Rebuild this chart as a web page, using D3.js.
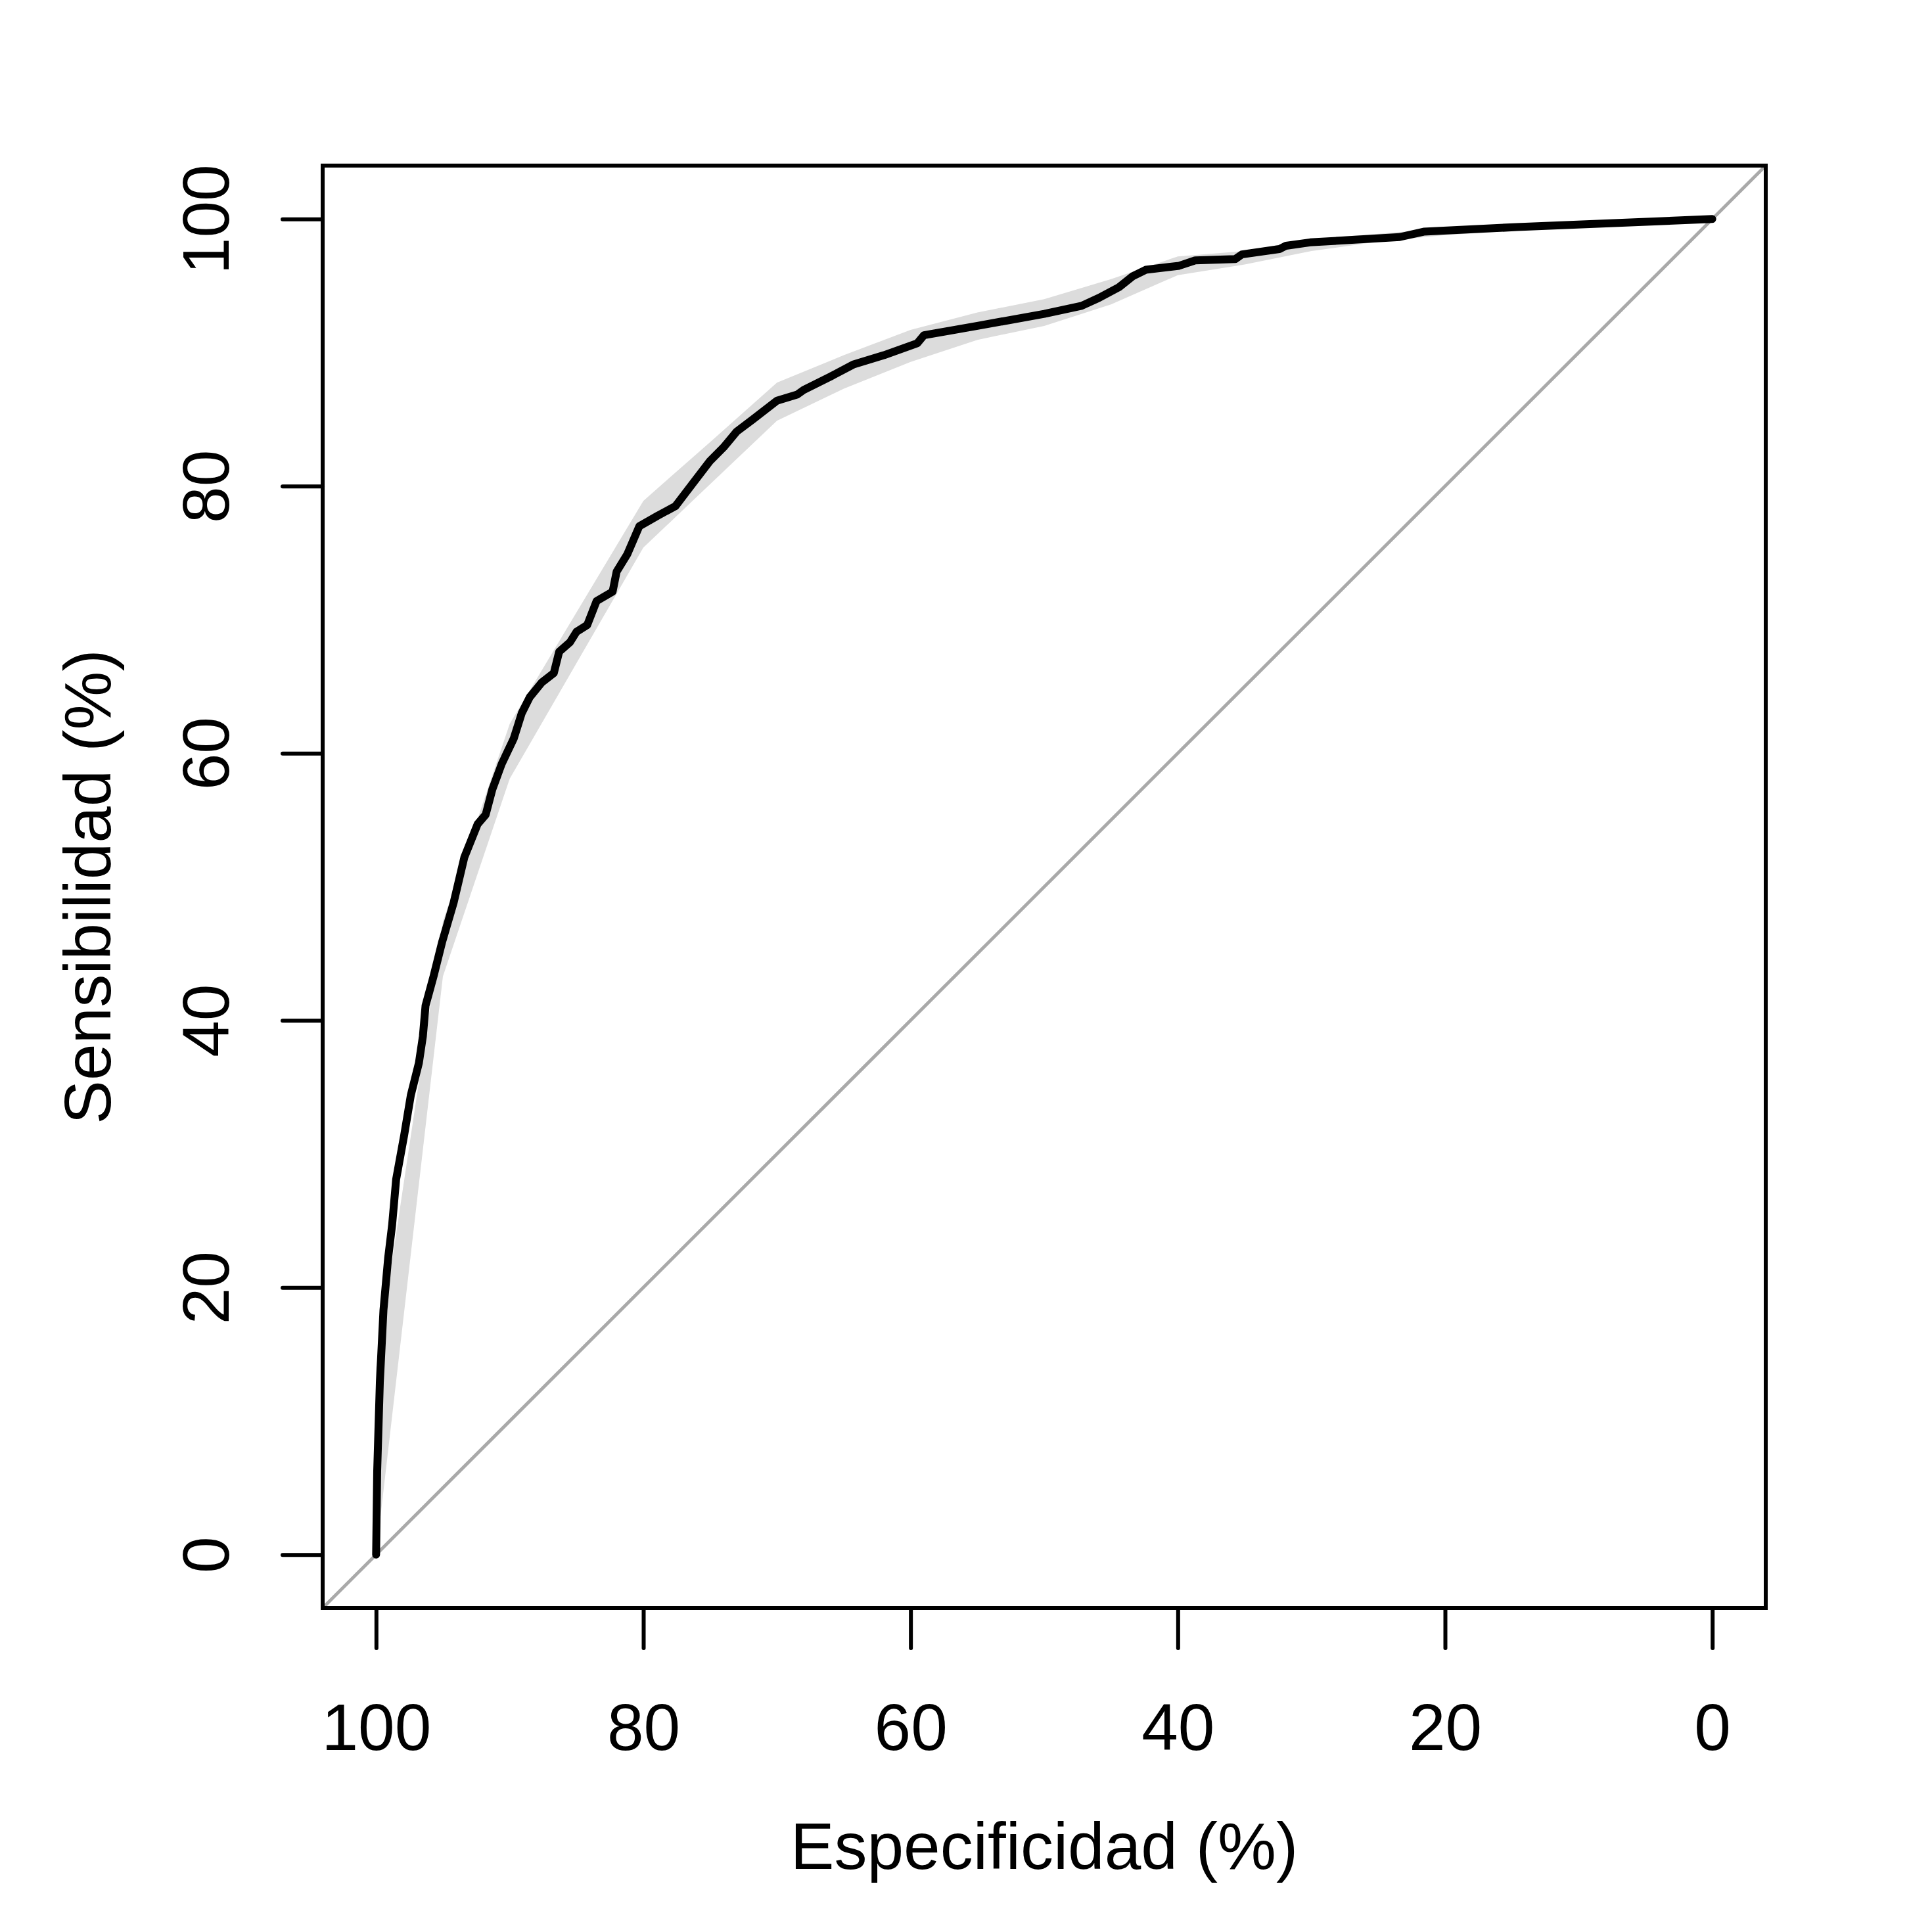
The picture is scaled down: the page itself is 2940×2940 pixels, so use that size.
<!DOCTYPE html>
<html>
<head>
<meta charset="utf-8">
<script src="https://cdn.jsdelivr.net/npm/d3@7"></script>
<style>
  body { margin: 0; background: #fff; }
  text { font-family: "Liberation Sans", Arial, sans-serif; }
</style>
</head>
<body>
<div id="chart"></div>
<script>
// ROC curve (specificity %, sensitivity %)
var rocSpec = [100, 99.92, 99.72, 99.45, 99.1, 98.8, 98.5, 97.9, 97.4, 96.8, 96.5, 96.3, 95.7, 95.05,
  94.2, 93.4, 92.4, 91.8, 91.3, 90.6, 89.7, 89.1, 88.5, 87.6, 86.7, 86.3, 85.5, 85.0, 84.2, 83.5,
  82.3, 82.0, 81.2, 80.3, 78.9, 77.6, 76.3, 75.0, 74.0, 73.0, 71.8, 70.0, 68.5, 68.0, 66.0, 64.3,
  62.0, 59.5, 59.0, 55.0, 50.0, 47.2, 45.9, 44.4, 43.4, 42.4, 39.9, 38.7, 35.7, 35.2, 32.4, 31.9,
  30.1, 23.4, 21.6, 14.6, 0];
var rocSens = [0, 6.2, 12.9, 18.3, 22.2, 24.7, 28.1, 31.4, 34.4, 36.8, 38.8, 41.1, 43.3, 45.9,
  48.8, 52.2, 54.7, 55.4, 57.3, 59.2, 61.1, 63.0, 64.2, 65.3, 66.0, 67.6, 68.3, 69.1, 69.6, 71.4,
  72.1, 73.6, 74.9, 77.0, 77.8, 78.5, 80.2, 81.9, 82.9, 84.1, 85.0, 86.4, 86.85, 87.2, 88.2, 89.1,
  89.8, 90.7, 91.3, 92.0, 92.9, 93.5, 94.1, 94.9, 95.7, 96.2, 96.5, 96.9, 97.0, 97.35, 97.75, 98.0,
  98.25, 98.65, 99.05, 99.4, 100];

// confidence band of sensitivity
var ciSpec  = [100, 95, 90, 85, 80, 75, 70, 65, 60, 55, 50, 45, 40, 35, 30, 25, 20, 15, 10, 5, 0];
var ciUpper = [14, 47.4, 62.2, 70.55, 78.9, 83.3, 87.75, 89.8, 91.7, 93.0, 94.0, 95.5, 97.2, 97.6,
  98.5, 98.9, 99.3, 99.5, 99.7, 99.85, 100];
var ciLower = [0, 43.3, 58.1, 66.75, 75.4, 80.15, 84.9, 87.3, 89.3, 90.95, 92.0, 93.6, 95.8, 96.6,
  97.6, 98.3, 98.8, 99.1, 99.4, 99.7, 100];

var xTicks = [100, 80, 60, 40, 20, 0];
var yTicks = [0, 20, 40, 60, 80, 100];

var W = 2940, H = 2940;
var plotLeft = 491, plotRight = 2687, plotTop = 252, plotBottom = 2447;

var svg = d3.select("#chart").append("svg")
  .attr("width", W)
  .attr("height", H);

var x = d3.scaleLinear().domain([104, -4]).range([plotLeft, plotRight]);
var y = d3.scaleLinear().domain([-4, 104]).range([plotBottom, plotTop]);

// band
var band = ciSpec.map(function(s, i) { return [s, ciUpper[i]]; })
  .concat(ciSpec.map(function(s, i) { return [s, ciLower[i]]; }).reverse());
svg.append("path")
  .datum(band)
  .attr("d", d3.line().x(d => x(d[0])).y(d => y(d[1])))
  .attr("fill", "#dcdcdc")
  .attr("stroke", "none");

// identity line, clipped to the plot region
svg.append("line")
  .attr("x1", x(104)).attr("y1", y(-4))
  .attr("x2", x(-4)).attr("y2", y(104))
  .attr("stroke", "#a9a9a9")
  .attr("stroke-width", 5);

// roc curve
var pts = rocSpec.map(function(s, i) { return [s, rocSens[i]]; });
svg.append("path")
  .datum(pts)
  .attr("d", d3.line().x(d => x(d[0])).y(d => y(d[1])))
  .attr("fill", "none")
  .attr("stroke", "#000")
  .attr("stroke-width", 12)
  .attr("stroke-linejoin", "round")
  .attr("stroke-linecap", "round");

// box
svg.append("rect")
  .attr("x", plotLeft).attr("y", plotTop)
  .attr("width", plotRight - plotLeft).attr("height", plotBottom - plotTop)
  .attr("fill", "none")
  .attr("stroke", "#000")
  .attr("stroke-width", 6);

// x axis
var gx = svg.append("g")
  .attr("transform", "translate(0," + plotBottom + ")")
  .call(d3.axisBottom(x).tickValues(xTicks).tickSize(61).tickSizeOuter(0));
gx.select(".domain").remove();
gx.selectAll(".tick line").attr("stroke", "#000").attr("stroke-width", 6).attr("stroke-linecap", "round");
gx.selectAll(".tick text")
  .attr("y", 216).attr("dy", null)
  .attr("fill", "#000")
  .style("font-size", "100px");

// y axis
var gy = svg.append("g")
  .attr("transform", "translate(" + plotLeft + ",0)")
  .call(d3.axisLeft(y).tickValues(yTicks).tickSize(61).tickSizeOuter(0));
gy.select(".domain").remove();
gy.selectAll(".tick line").attr("stroke", "#000").attr("stroke-width", 6).attr("stroke-linecap", "round");
gy.selectAll(".tick text")
  .attr("x", null).attr("dy", null)
  .attr("text-anchor", "middle")
  .attr("transform", "translate(-143,0) rotate(-90)")
  .attr("fill", "#000")
  .style("font-size", "100px");

// titles
svg.append("text")
  .attr("x", (plotLeft + plotRight) / 2)
  .attr("y", 2844)
  .attr("text-anchor", "middle")
  .style("font-size", "100px")
  .text("Especificidad (%)");

svg.append("text")
  .attr("transform", "translate(168," + (plotTop + plotBottom) / 2 + ") rotate(-90)")
  .attr("text-anchor", "middle")
  .style("font-size", "100px")
  .text("Sensibilidad (%)");
</script>
</body>
</html>
